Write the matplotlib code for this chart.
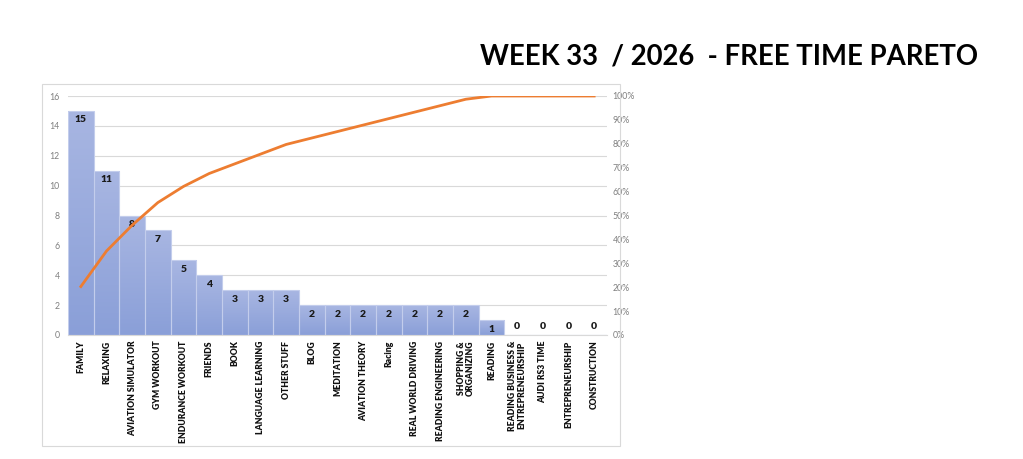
import numpy as np
import matplotlib
matplotlib.use("Agg")
import matplotlib.pyplot as plt
from matplotlib.patches import Rectangle
from matplotlib.ticker import PercentFormatter
from matplotlib.colors import LinearSegmentedColormap

# data
categories = ["FAMILY", "RELAXING", "AVIATION SIMULATOR", "GYM WORKOUT", "ENDURANCE WORKOUT",
              "FRIENDS", "BOOK", "LANGUAGE LEARNING", "OTHER STUFF", "BLOG", "MEDITATION",
              "AVIATION THEORY", "Racing", "REAL WORLD DRIVING", "READING ENGINEERING",
              "SHOPPING &\nORGANIZING", "READING", "READING BUSINESS &\nENTREPRENEURSHIP",
              "AUDI RS3 TIME", "ENTREPRENEURSHIP", "CONSTRUCTION"]
hours = [15, 11, 8, 7, 5, 4, 3, 3, 3, 2, 2, 2, 2, 2, 2, 2, 1, 0, 0, 0, 0]
title = "WEEK 33  / 2026  - FREE TIME PARETO"

plt.rcParams['font.family'] = ['Lato', 'DejaVu Sans']

cum_pct = np.cumsum(hours) / sum(hours) * 100
x = np.arange(len(categories))

fig = plt.figure(figsize=(10.23, 4.59), dpi=100)

# outer chart frame
fig.patches.append(Rectangle((42 / 1023, 1 - 446 / 459), 578 / 1023, 362 / 459,
                             transform=fig.transFigure, fill=False,
                             edgecolor="#d9d9d9", linewidth=0.8))

ax = fig.add_axes([68 / 1023, 1 - 335 / 459, 539 / 1023, 239 / 459])
ax.grid(axis="y", color="#d9d9d9", linewidth=0.8)
ax.set_axisbelow(True)
for s in ax.spines.values():
    s.set_visible(False)
ax.spines["bottom"].set_visible(True)
ax.spines["bottom"].set_color("#d9d9d9")

# bars with a light vertical gradient (darker at the bottom)
grad = np.linspace(0, 1, 256).reshape(-1, 1)
cmap = LinearSegmentedColormap.from_list("barfill", ["#8a9fd8", "#a8b6e2"])
bars = ax.bar(x, hours, width=1.0, color="none", edgecolor="#c3cdec", linewidth=0.8, zorder=2)
for b in bars:
    h = b.get_height()
    if h <= 0:
        continue
    im = ax.imshow(grad, cmap=cmap, aspect="auto", origin="lower",
                   extent=(b.get_x(), b.get_x() + b.get_width(), 0, h), zorder=1.5)
    im.set_clip_path(b)
ax.set_xlim(-0.5, len(categories) - 0.5)
ax.set_ylim(0, 16)
ax.set_yticks(range(0, 17, 2))

for xi, v in zip(x, hours):
    ax.text(xi, max(v - 0.3, 0.3), str(v), ha="center", va="top" if v > 0 else "bottom",
            fontsize=7.5, fontweight="heavy", color="#1a1a1a", zorder=4)

ax.set_xticks(x)
ax.set_xticklabels(categories, rotation=90, fontsize=6.2, fontweight="heavy", color="#111111",
                   linespacing=1.0)
ax.tick_params(axis="x", length=0, pad=4)
ax.tick_params(axis="y", length=0, labelsize=6.3, labelcolor="#7f7f7f", pad=6)

ax2 = ax.twinx()
ax2.plot(x, cum_pct, color="#ed7d31", linewidth=2, zorder=5)
ax2.set_ylim(0, 100)
ax2.set_yticks(range(0, 101, 10))
ax2.yaxis.set_major_formatter(PercentFormatter(decimals=0))
ax2.tick_params(axis="y", length=0, labelsize=6.3, labelcolor="#7f7f7f", pad=4)
for s in ax2.spines.values():
    s.set_visible(False)

fig.text(978 / 1023, 1 - 57 / 459, title, ha="right", va="center",
         fontsize=19.8, fontweight="bold", color="black")

fig.savefig("out.png", dpi=100)
